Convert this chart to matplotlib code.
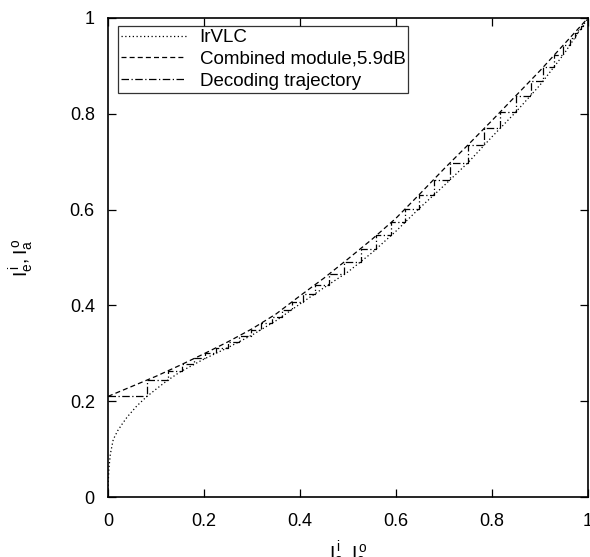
import matplotlib
matplotlib.use("Agg")
import matplotlib.pyplot as plt

plt.rcParams['font.family'] = ['Liberation Sans', 'DejaVu Sans']
plt.rcParams['mathtext.fontset'] = 'custom'
plt.rcParams['mathtext.rm'] = 'Liberation Sans'
plt.rcParams['mathtext.it'] = 'Liberation Sans'

# IrVLC curve (dotted)
irvlc_x = [0, 0.0005, 0.002, 0.005, 0.011, 0.02, 0.03, 0.04, 0.06, 0.08, 0.1, 0.122,
           0.15, 0.2, 0.25, 0.3, 0.35, 0.4, 0.45, 0.5, 0.55, 0.6, 0.65, 0.7, 0.75,
           0.8, 0.85, 0.9, 0.95, 1.0]
irvlc_y = [0, 0.03, 0.06, 0.09, 0.12, 0.138, 0.153, 0.167, 0.19, 0.209, 0.225, 0.242,
           0.261, 0.288, 0.312, 0.338, 0.368, 0.403, 0.437, 0.47, 0.51, 0.555, 0.604, 0.65,
           0.698, 0.752, 0.804, 0.86, 0.925, 1.0]

# Combined module curve (dashed)
comb_x = [0, 0.05, 0.1, 0.15, 0.2, 0.25, 0.3, 0.35, 0.4, 0.45, 0.5, 0.55, 0.6, 0.65,
          0.7, 0.75, 0.8, 0.85, 0.9, 0.95, 1.0]
comb_y = [0.21, 0.231, 0.252, 0.275, 0.299, 0.324, 0.351, 0.382, 0.42, 0.457, 0.497,
          0.538, 0.582, 0.633, 0.685, 0.735, 0.786, 0.838, 0.89, 0.945, 1.0]

# Decoding trajectory: step corners (x of each vertical jump, y level reached)
traj_steps_x = [0, 0.0813, 0.1251, 0.1546, 0.18, 0.2029, 0.226, 0.25, 0.2731, 0.2971,
                0.319, 0.3413, 0.3623, 0.3833, 0.4063, 0.4319, 0.46, 0.4924, 0.5261,
                0.5593, 0.5902, 0.6188, 0.6471, 0.6783, 0.7129, 0.7499, 0.7842, 0.8172,
                0.8499, 0.8803, 0.9073, 0.9292, 0.9478, 0.9617, 0.9719, 0.9794, 0.9849,
                0.9889]
traj_steps_y = [0.21, 0.2441, 0.2635, 0.2772, 0.2894, 0.3005, 0.312, 0.324, 0.3365, 0.3494,
                0.3628, 0.3766, 0.3913, 0.4073, 0.4247, 0.4436, 0.465, 0.4909, 0.5184,
                0.5462, 0.5734, 0.6012, 0.63, 0.6624, 0.6979, 0.7349, 0.7699, 0.8039,
                0.8379, 0.8695, 0.898, 0.9221, 0.9426, 0.9579, 0.9691, 0.9773, 0.9834,
                0.9878]

legend_labels = ['IrVLC', 'Combined module,5.9dB', 'Decoding trajectory']
ticks = [0, 0.2, 0.4, 0.6, 0.8, 1]
tick_labels = ['0', '0.2', '0.4', '0.6', '0.8', '1']

fig = plt.figure(figsize=(5.9, 5.57), dpi=100)
ax = fig.add_axes([0.183, 0.1077, 0.8136, 0.86])

ax.plot(irvlc_x, irvlc_y, color='black', linestyle=(0, (1, 2)), linewidth=0.9,
        label=legend_labels[0])
ax.plot(comb_x, comb_y, color='black', linestyle=(0, (4, 2.5)), linewidth=0.9,
        label=legend_labels[1])

tx, ty = [], []
for i in range(len(traj_steps_x)):
    tx.append(traj_steps_x[i])
    ty.append(traj_steps_y[i])
    if i + 1 < len(traj_steps_x):
        tx.append(traj_steps_x[i + 1])
        ty.append(traj_steps_y[i])
ax.plot(tx, ty, color='black', linestyle=(0, (6, 2, 1, 2)), linewidth=0.9,
        label=legend_labels[2])

ax.set_xlim(0, 1)
ax.set_ylim(0, 1)
ax.set_xticks(ticks)
ax.set_xticklabels(tick_labels)
ax.set_yticks(ticks)
ax.set_yticklabels(tick_labels)
ax.tick_params(direction='in', top=True, right=True, length=6, width=0.9,
               labelsize=13)
ax.tick_params(axis='x', pad=11.5)
ax.tick_params(axis='y', pad=9.5)
for s in ax.spines.values():
    s.set_linewidth(1.2)

ax.set_xlabel(r'$\mathregular{I_a^{\,i}, I_e^{\,o}}$', fontsize=14, labelpad=6.5)
ax.set_ylabel(r'$\mathregular{I_e^{\,i}, I_a^{\,o}}$', fontsize=14, labelpad=24)

leg = ax.legend(loc='upper left', bbox_to_anchor=(0.0208, 0.983), fontsize=13.5,
                frameon=True, fancybox=False, handlelength=3.5, handletextpad=0.7,
                borderpad=0.15, labelspacing=0.25, borderaxespad=0)
leg.get_frame().set_edgecolor('black')
leg.get_frame().set_linewidth(0.9)

fig.savefig('out.png', dpi=100)
